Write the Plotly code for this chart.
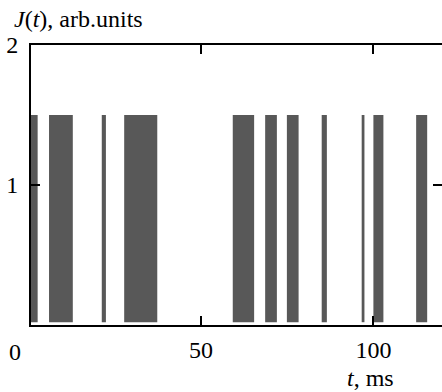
import plotly.graph_objects as go

# Pulse intervals (ms) where J(t) is "on"
pulse_start = [0.0, 5.9, 21.2, 27.7, 59.2, 68.6, 74.9, 85.0, 96.6, 100.0, 112.4]
pulse_end = [2.6, 12.8, 22.4, 37.3, 65.4, 72.0, 78.3, 86.5, 97.4, 102.9, 115.6]
pulse_level = 1.5
pulse_base = 0.02

x_ticks = [50, 100]
y_ticks = [1, 2]

centers = [(a + b) / 2 for a, b in zip(pulse_start, pulse_end)]
widths = [b - a for a, b in zip(pulse_start, pulse_end)]
heights = [pulse_level - pulse_base] * len(centers)

FONT = "'Liberation Serif', 'Times New Roman', serif"
TFONT = dict(family=FONT, size=24, color="black")

fig = go.Figure()
fig.add_trace(go.Bar(
    x=centers, y=heights, base=[pulse_base] * len(centers), width=widths,
    marker=dict(color="#585858", line=dict(width=0)),
    showlegend=False, hoverinfo="skip",
))
# invisible trace for the right-hand axis
fig.add_trace(go.Scatter(x=[None], y=[None], yaxis="y2", showlegend=False))

fig.update_layout(
    width=442, height=392,
    margin=dict(l=31, r=0, t=45, b=67, autoexpand=False),
    paper_bgcolor="white", plot_bgcolor="white",
    font=TFONT,
    xaxis=dict(
        range=[0.67, 119.9], tickvals=x_ticks, ticktext=[str(v) for v in x_ticks],
        showline=True, linecolor="black", linewidth=2, mirror="ticks",
        ticks="inside", ticklen=9, tickwidth=2, tickcolor="black", tickfont=TFONT,
        showgrid=False, zeroline=False, ticklabelstandoff=2, automargin=False,
    ),
    yaxis=dict(
        range=[0, 2], tickvals=y_ticks, ticktext=[str(v) for v in y_ticks],
        showline=True, linecolor="black", linewidth=2,
        ticks="inside", ticklen=9, tickwidth=2, tickcolor="black", tickfont=TFONT,
        showgrid=False, zeroline=False, ticklabelstandoff=6, automargin=False,
    ),
    yaxis2=dict(
        range=[0, 2], overlaying="y", side="right", tickvals=[1],
        showticklabels=False, showline=False, showgrid=False, zeroline=False,
        ticks="inside", ticklen=9, tickwidth=2, tickcolor="black", automargin=False,
    ),
    annotations=[
        dict(text="<i>J</i>(<i>t</i>), arb.units", xref="paper", yref="paper",
             x=-0.046, y=1.093, xanchor="left", yanchor="middle", showarrow=False,
             font=TFONT),
        dict(text="0", xref="paper", yref="paper", x=-0.039, y=-0.096,
             xanchor="center", yanchor="middle", showarrow=False, font=TFONT),
        dict(text="<i>t</i>, ms", xref="paper", yref="paper", x=0.825, y=-0.189,
             xanchor="center", yanchor="middle", showarrow=False, font=TFONT),
    ],
)

fig.write_html(
    "out.html",
    config={"displayModeBar": False},
    post_script="document.body.style.margin='0';document.body.style.overflow='hidden';",
)
